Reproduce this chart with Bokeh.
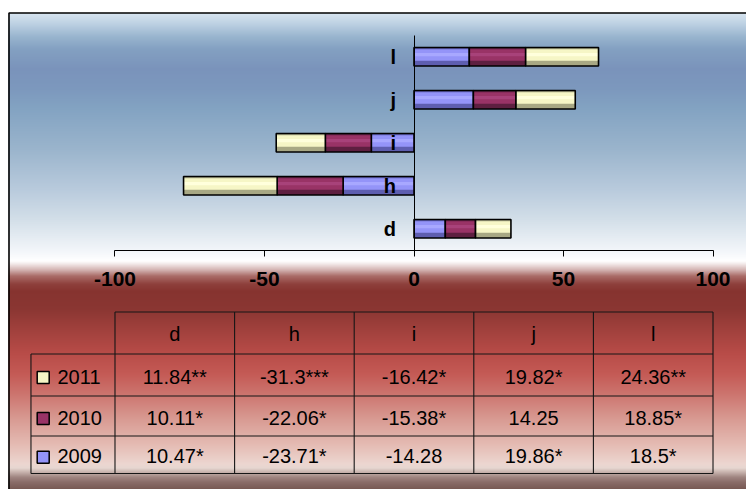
import numpy as np
from bokeh.plotting import figure
from bokeh.models import Range1d, LinearAxis, FixedTicker, ColumnDataSource
from bokeh.embed import file_html
from bokeh.resources import INLINE
from bokeh.core.properties import value

# ---------------- data ----------------
categories = ["d", "h", "i", "j", "l"]
v2009 = [10.47, -23.71, -14.28, 19.86, 18.5]
v2010 = [10.11, -22.06, -15.38, 14.25, 18.85]
v2011 = [11.84, -31.3, -16.42, 19.82, 24.36]
sig2009 = ["*", "*", "", "*", "*"]
sig2010 = ["*", "*", "*", "", "*"]
sig2011 = ["**", "***", "*", "*", "**"]
x_ticks = [-100, -50, 0, 50, 100]
x_tick_labels = ["-100", "-50", "0", "50", "100"]

# ---------------- styling ----------------
FONT = "Liberation Sans"
COL = {"2009": ("#9494f8", "#5e5eb0", "#a8a8ff"),
       "2010": ("#993366", "#5e1f40", "#a8427a"),
       "2011": ("#f6f6c6", "#a8a884", "#ffffdc")}

W, H = 746, 489
XS, XE = -138.29, 111.20          # x range (data units) across the whole figure
YS, YE = -6.063, 5.309            # y range (category units) across the whole figure

p = figure(width=W, height=H, output_backend="svg", toolbar_location=None,
           x_range=Range1d(XS, XE), y_range=Range1d(YS, YE),
           x_axis_type=None, y_axis_type=None, min_border=0)
p.extra_y_ranges = {"px": Range1d(H, 0)}
p.extra_x_ranges = {"px": Range1d(0, W)}
p.outline_line_color = None
p.background_fill_color = "white"
p.border_fill_color = "white"

# ---------------- background gradient ----------------
stops = [(12.5, "#d6e4ef"), (23, "#bcd0e2"), (36, "#98b4ce"), (48, "#83a0c1"),
         (68, "#7a93bb"), (88, "#7c98bd"), (108, "#83a3c2"), (148, "#9ab4cc"),
         (188, "#b8cadc"), (218, "#d2dee8"), (238, "#e6edf3"), (253, "#f6f8fb"),
         (260, "#ffffff"), (263, "#f2e8e8"), (269, "#d2b2b0"), (275, "#aa6c68"),
         (283, "#8e403c"), (290, "#86332f"), (308, "#8a3632"), (328, "#a0403c"),
         (353, "#b84c48"), (373, "#c45a55"), (393, "#cc746e"), (418, "#d89a92"),
         (443, "#e4bab2"), (463, "#ecd6d0"), (467, "#e6d6d0"), (471, "#c8b4ae"),
         (476, "#a08682"), (481, "#8a6c68"), (489, "#745650")]
sy = np.array([s[0] for s in stops])
rgb = np.array([[int(c[i:i + 2], 16) for i in (1, 3, 5)] for _, c in stops], dtype=float)
rows_y = np.arange(12.5, H + 1, 1.0)
cols = []
for yy in rows_y:
    c = [int(round(np.interp(yy, sy, rgb[:, k]))) for k in range(3)]
    cols.append("#%02x%02x%02x" % tuple(c))
p.quad(left=8, right=W, top=rows_y, bottom=rows_y + 1.6, fill_color=cols,
       line_color=None, x_range_name="px", y_range_name="px")

# chart border
p.line(x=[8.5, 8.5, W], y=[H, 12.5, 12.5], line_color="black", line_width=1.6,
       x_range_name="px", y_range_name="px")

# ---------------- bars ----------------
ypos = np.arange(len(categories), dtype=float)
BAR_H = 0.43
cum = np.zeros(len(categories))
for name, vals in [("2009", v2009), ("2010", v2010), ("2011", v2011)]:
    base, dark, light = COL[name]
    v = np.array(vals)
    left, right = cum.copy(), cum + v
    cum = right
    p.hbar(y=ypos, left=left, right=right, height=BAR_H,
           fill_color=dark, line_color=None)
    p.hbar(y=ypos + BAR_H * 0.10, left=left, right=right, height=BAR_H * 0.62,
           fill_color=base, line_color=None)
    p.hbar(y=ypos + BAR_H * 0.12, left=left, right=right, height=BAR_H * 0.18,
           fill_color=light, line_color=None)
    p.hbar(y=ypos, left=left, right=right, height=BAR_H,
           fill_color=None, line_color="black", line_width=1.6)

# ---------------- axes ----------------
xaxis = LinearAxis(ticker=FixedTicker(ticks=x_ticks), fixed_location=-0.5,
                   bounds=(-100, 100),
                   major_label_overrides={float(t): l for t, l in zip(x_ticks, x_tick_labels)})
xaxis.axis_line_color = "black"
xaxis.major_tick_line_color = "black"
xaxis.major_tick_in = 0
xaxis.major_tick_out = 6
xaxis.minor_tick_line_color = None
xaxis.major_label_text_font = FONT
xaxis.major_label_text_font_style = "bold"
xaxis.major_label_text_font_size = "21px"
xaxis.major_label_text_color = "black"
xaxis.major_label_standoff = 16
p.add_layout(xaxis, "below")

yaxis = LinearAxis(ticker=FixedTicker(ticks=list(ypos)), fixed_location=0,
                   bounds=(-0.5, 4.5),
                   major_label_overrides={float(i): c for i, c in enumerate(categories)})
yaxis.axis_line_color = "black"
yaxis.major_tick_line_color = None
yaxis.major_tick_in = 0
yaxis.major_tick_out = 0
yaxis.minor_tick_line_color = None
yaxis.major_label_text_font = FONT
yaxis.major_label_text_font_style = "bold"
yaxis.major_label_text_font_size = "20px"
yaxis.major_label_text_color = "black"
yaxis.major_label_standoff = 18
p.add_layout(yaxis, "left")

# ---------------- data table ----------------
edges = np.linspace(-100, 100, len(categories) + 1)
centers = (edges[:-1] + edges[1:]) / 2
LABEL_LEFT = -128.1
row_lines = [311.5, 353.5, 395.5, 435.5, 473.0]   # header top, row tops..., bottom (px)
LINE = "#161616"

# horizontal lines
p.segment(x0=[edges[0]] + [LABEL_LEFT] * 4, x1=[edges[-1]] * 5,
          y0=row_lines, y1=row_lines, line_color=LINE, line_width=1.1,
          y_range_name="px")
# vertical lines
p.segment(x0=list(edges) + [LABEL_LEFT], x1=list(edges) + [LABEL_LEFT],
          y0=[row_lines[0]] * len(edges) + [row_lines[1]],
          y1=[row_lines[-1]] * (len(edges) + 1),
          line_color=LINE, line_width=1.1, y_range_name="px")

# header
p.text(x=centers, y=[(row_lines[0] + row_lines[1]) / 2 + 1] * len(categories),
       text=categories, text_font=value(FONT), text_font_size="20px",
       text_align="center", text_baseline="middle", text_color="black",
       y_range_name="px")

table_rows = [("2011", v2011, sig2011), ("2010", v2010, sig2010), ("2009", v2009, sig2009)]
for r, (name, vals, sigs) in enumerate(table_rows):
    yc = (row_lines[r + 1] + row_lines[r + 2]) / 2 + 1.5
    p.text(x=centers, y=[yc] * len(vals), text=[f"{v}{s}" for v, s in zip(vals, sigs)],
           text_font=value(FONT), text_font_size="20px", text_align="center",
           text_baseline="middle", text_color="black", y_range_name="px")
    base, dark, light = COL[name]
    p.rect(x=[42.7], y=[yc + 1], width=12, height=12, fill_color=base,
           line_color="black", line_width=1.5, x_range_name="px", y_range_name="px")
    p.text(x=[57], y=[yc], text=[name], text_font=value(FONT), text_font_size="20px",
           text_align="left", text_baseline="middle", text_color="black",
           x_range_name="px", y_range_name="px")

open("out.html", "w").write(file_html(p, INLINE))
